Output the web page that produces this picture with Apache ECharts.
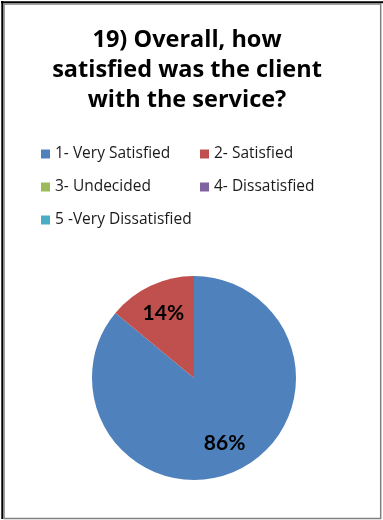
<!DOCTYPE html>
<html>
<head>
<meta charset="utf-8">
<title>Client satisfaction</title>
<script src="https://cdn.jsdelivr.net/npm/echarts@6/dist/echarts.min.js"></script>
<style>
  html, body { margin: 0; padding: 0; background: #ffffff; }
  #chart { width: 383px; height: 520px; }
</style>
</head>
<body>
<div id="chart"></div>
<script>
// Survey question 19: satisfaction with the service
const titleLines = ['19) Overall, how', 'satisfied was the client', 'with the service?'];
const categories = ['1- Very Satisfied', '2- Satisfied', '3- Undecided', '4- Dissatisfied', '5 -Very Dissatisfied'];
const shares = [86, 14, 0, 0, 0];
const palette = ['#4F81BD', '#C0504D', '#9BBB59', '#8064A2', '#4BACC6'];

const chart = echarts.init(document.getElementById('chart'), null, { renderer: 'canvas' });

const pieData = categories.map((name, i) => ({ name, value: shares[i], itemStyle: { color: palette[i] } }));

// legend laid out in two columns, one legend block per entry
const legendSlots = [
  { left: 41, top: 146 }, { left: 200, top: 146 },
  { left: 41, top: 179 }, { left: 200, top: 179 },
  { left: 41, top: 212 }
];
const legends = categories.map((name, i) => ({
  data: [{ name, itemStyle: { color: palette[i] } }],
  left: legendSlots[i].left,
  top: legendSlots[i].top,
  padding: 0,
  icon: 'rect',
  itemWidth: 9,
  itemHeight: 9,
  itemGap: 0,
  selectedMode: false,
  textStyle: { fontFamily: 'Open Sans', fontSize: 15.5, color: '#1a1a1a', padding: [0, 0, 0, 0] }
}));

const labelFmt = p => (p.value > 0 ? Math.round(p.percent) + '%' : '');

chart.setOption({
  animation: false,
  backgroundColor: '#ffffff',
  graphic: [
    // frame
    { type: 'rect', shape: { x: 1, y: 1.3, width: 382, height: 2 }, style: { fill: '#000000' }, silent: true },
    { type: 'rect', shape: { x: 1.3, y: 1, width: 2, height: 518 }, style: { fill: '#000000' }, silent: true },
    { type: 'rect', shape: { x: 4, y: 4, width: 376.7, height: 514.6 }, style: { fill: null, stroke: '#808080', lineWidth: 1.5 }, silent: true },
    // title
    ...titleLines.map((t, i) => ({
      type: 'text',
      x: 187,
      y: 40 + i * 30,
      style: {
        text: t,
        fontFamily: 'Open Sans',
        fontWeight: 'bold',
        fontSize: 23.5,
        fill: '#000000',
        align: 'center',
        verticalAlign: 'middle'
      },
      silent: true
    }))
  ],
  legend: legends,
  series: [
    {
      name: 'Satisfaction',
      type: 'pie',
      center: [194, 378],
      radius: 102,
      startAngle: 90,
      clockwise: true,
      silent: true,
      itemStyle: { borderWidth: 0 },
      label: { show: false },
      labelLine: { show: false },
      data: pieData
    },
    {
      // percentage labels sitting at about two thirds of the radius
      name: 'Labels',
      type: 'pie',
      center: [194, 378],
      radius: [36, 102],
      startAngle: 90,
      clockwise: true,
      silent: true,
      legendHoverLink: false,
      itemStyle: { color: 'rgba(0,0,0,0)', borderWidth: 0 },
      label: {
        show: true,
        position: 'inside',
        formatter: labelFmt,
        fontFamily: 'Lato',
        fontWeight: 'bold',
        fontSize: 21,
        color: '#000000'
      },
      labelLine: { show: false },
      data: categories.map((name, i) => ({ name, value: shares[i] }))
    }
  ]
});
</script>
</body>
</html>
